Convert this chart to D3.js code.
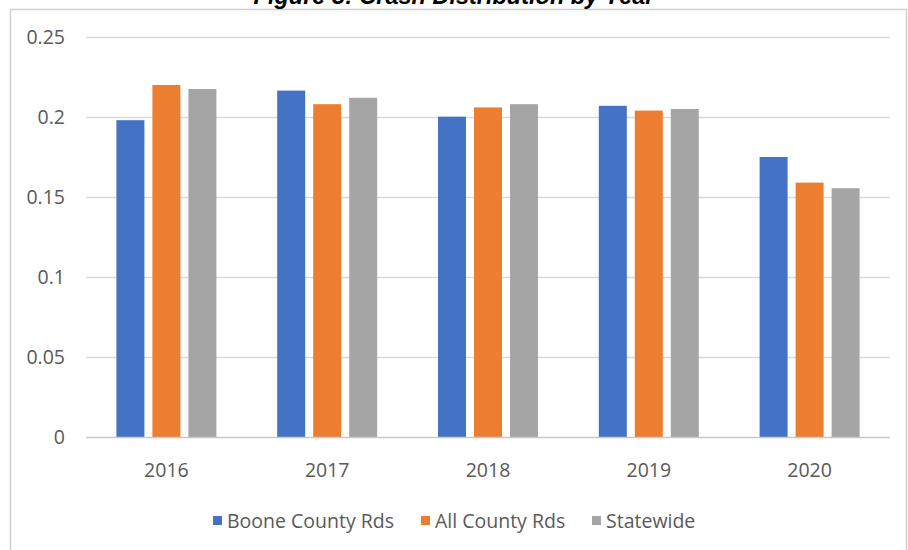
<!DOCTYPE html>
<html>
<head>
<meta charset="utf-8">
<script src="https://cdn.jsdelivr.net/npm/d3@7"></script>
<style>
  html, body { margin: 0; padding: 0; background: #ffffff; }
  svg { display: block; }
</style>
</head>
<body>
<svg id="chart" width="908" height="550"></svg>
<script>
// Crash distribution by year, three comparison groups
const years = ["2016", "2017", "2018", "2019", "2020"];
const seriesNames = ["Boone County Rds", "All County Rds", "Statewide"];
const booneCounty = [0.198, 0.2165, 0.2002, 0.207, 0.175];
const allCounty = [0.220, 0.208, 0.206, 0.204, 0.159];
const statewide = [0.2175, 0.212, 0.208, 0.205, 0.1555];
const yTicks = [0, 0.05, 0.1, 0.15, 0.2, 0.25];
const colors = ["#4472C4", "#ED7D31", "#A5A5A5"];

const seriesValues = [booneCounty, allCounty, statewide];
const rows = years.map((y, i) => ({
  year: y,
  values: seriesNames.map((s, k) => ({ series: s, value: seriesValues[k][i], k }))
}));

const svg = d3.select("#chart");
const font = "'Open Sans', Lato, sans-serif";
const labelSize = 19.5;

// Frame around the chart area
svg.append("rect")
  .attr("x", 10.5).attr("y", 9.5)
  .attr("width", 896).attr("height", 560)
  .attr("fill", "#ffffff")
  .attr("stroke", "#d0d0d0")
  .attr("stroke-width", 1.5);

// Title, sitting at the very top edge
svg.append("text")
  .attr("x", 454).attr("y", 4)
  .attr("text-anchor", "middle")
  .attr("font-family", "Arial, 'Liberation Sans', sans-serif")
  .attr("font-weight", "bold")
  .attr("font-style", "italic")
  .attr("font-size", 23.5)
  .attr("fill", "#000")
  .text("Figure 3: Crash Distribution by Year");

const plot = { left: 86, right: 890, top: 37, bottom: 437 };

const x = d3.scaleBand().domain(years).range([plot.left, plot.right]);
const y = d3.scaleLinear().domain([0, 0.25]).range([plot.bottom, plot.top]);
const barW = 28, step = 36;

// Gridlines
svg.append("g")
  .selectAll("line")
  .data(yTicks.filter(t => t > 0))
  .join("line")
  .attr("x1", plot.left).attr("x2", plot.right)
  .attr("y1", d => Math.round(y(d)) + 0.5).attr("y2", d => Math.round(y(d)) + 0.5)
  .attr("stroke", "#d9d9d9").attr("stroke-width", 1.5);

// Y axis labels
const yAxis = d3.axisLeft(y).tickValues(yTicks).tickSize(0).tickPadding(0)
  .tickFormat(d => d === 0 ? "0" : String(+d.toFixed(2)));
const yg = svg.append("g").attr("transform", `translate(${plot.left - 21},0)`).call(yAxis);
yg.select(".domain").remove();
yg.selectAll("text")
  .attr("font-family", font).attr("font-size", labelSize).attr("fill", "#595959");

// Bars
const groups = svg.append("g").selectAll("g")
  .data(rows).join("g")
  .attr("transform", d => `translate(${x(d.year) + x.bandwidth() / 2},0)`);
groups.selectAll("rect")
  .data(d => d.values).join("rect")
  .attr("x", d => -50 + d.k * step)
  .attr("width", barW)
  .attr("y", d => y(d.value))
  .attr("height", d => y(0) - y(d.value))
  .attr("fill", d => colors[d.k]);

// Baseline
svg.append("line")
  .attr("x1", plot.left).attr("x2", plot.right)
  .attr("y1", y(0) + 0.5).attr("y2", y(0) + 0.5)
  .attr("stroke", "#c8c8c8").attr("stroke-width", 1.5);

// X axis labels
const xAxis = d3.axisBottom(x).tickSize(0).tickPadding(0);
const xg = svg.append("g").attr("transform", `translate(0,${plot.bottom + 26})`).call(xAxis);
xg.select(".domain").remove();
xg.selectAll("text")
  .attr("font-family", font).attr("font-size", labelSize).attr("fill", "#595959")
  .attr("dy", "0.71em");

// Legend
const legendX = [213, 421, 592];
const legend = svg.append("g").selectAll("g")
  .data(seriesNames).join("g")
  .attr("transform", (d, i) => `translate(${legendX[i]},521)`);
legend.append("rect")
  .attr("x", 0).attr("y", -5).attr("width", 9).attr("height", 9)
  .attr("fill", (d, i) => colors[i]);
legend.append("text")
  .attr("x", 14).attr("y", 0).attr("dy", "0.35em")
  .attr("font-family", font).attr("font-size", labelSize).attr("fill", "#595959")
  .text(d => d);
</script>
</body>
</html>
